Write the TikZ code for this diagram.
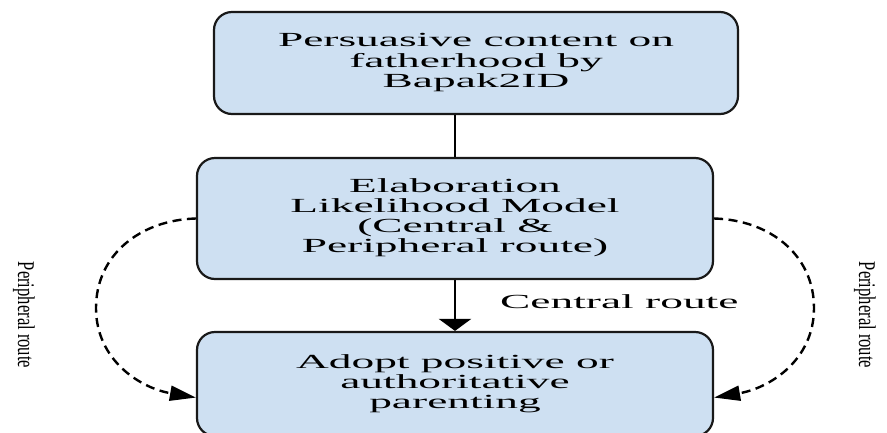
\documentclass[tikz,border=0pt]{standalone}
\usepackage{fontspec}
\setmainfont{Liberation Serif}
\usetikzlibrary{arrows.meta,calc}
\definecolor{boxfill}{RGB}{206,224,242}
\definecolor{boxline}{RGB}{25,25,25}
\newcommand{\wide}[1]{\scalebox{2.27}[1]{\begin{tabular}{@{}c@{}}#1\end{tabular}}}
\tikzset{
  flowbox/.style={draw=boxline, line width=2.2pt, fill=boxfill, rounded corners=18pt, inner sep=0pt, font=\fontsize{20}{20}\selectfont},
  periph/.style={dashed, dash pattern=on 9pt off 5.5pt, line width=2.4pt, -{Triangle[length=26pt,width=15pt]}},
  sidelabel/.style={rotate=-90, inner sep=0pt, font=\fontsize{24}{24}\selectfont},
  routelabel/.style={inner sep=0pt, font=\fontsize{20}{20}\selectfont}
}
\begin{document}
\begin{tikzpicture}[x=1pt,y=-1pt]
\useasboundingbox (0,0) rectangle (887,432);
\node[flowbox, minimum width=524pt, minimum height=102pt] (top) at (476,63) {\wide{Persuasive content on\\fatherhood by\\Bapak2ID}};
\node[flowbox, minimum width=516pt, minimum height=121pt] (mid) at (455,218.5) {\wide{Elaboration\\Likelihood Model\\(Central \&\\Peripheral route)}};
\node[flowbox, minimum width=516pt, minimum height=104pt] (bot) at (455,384) {\wide{Adopt positive or\\authoritative\\parenting}};
\draw[line width=2.8pt] (mid.north |- top.south) -- (mid.north);
\draw[line width=2.8pt, -{Triangle[length=12pt,width=32pt]}] (mid.south) -- (bot.north);
\node[routelabel, anchor=west] (central) at (500,302) {\scalebox{2.27}[1]{Central route}};
\draw[periph] (mid.west) .. controls (140,220) and (96,255) .. (96,308) coordinate (lmid) .. controls (96,360) and (140,388) .. (bot.183.2);
\draw[periph] (mid.east) .. controls (770,220) and (814,255) .. (814,308) coordinate (rmid) .. controls (814,360) and (770,388) .. (bot.-3.2);
\node[sidelabel] (lper) at (24,315) {\scalebox{0.69}[1]{Peripheral route}};
\node[sidelabel] (rper) at (865,315) {\scalebox{0.69}[1]{Peripheral route}};
\end{tikzpicture}
\end{document}
